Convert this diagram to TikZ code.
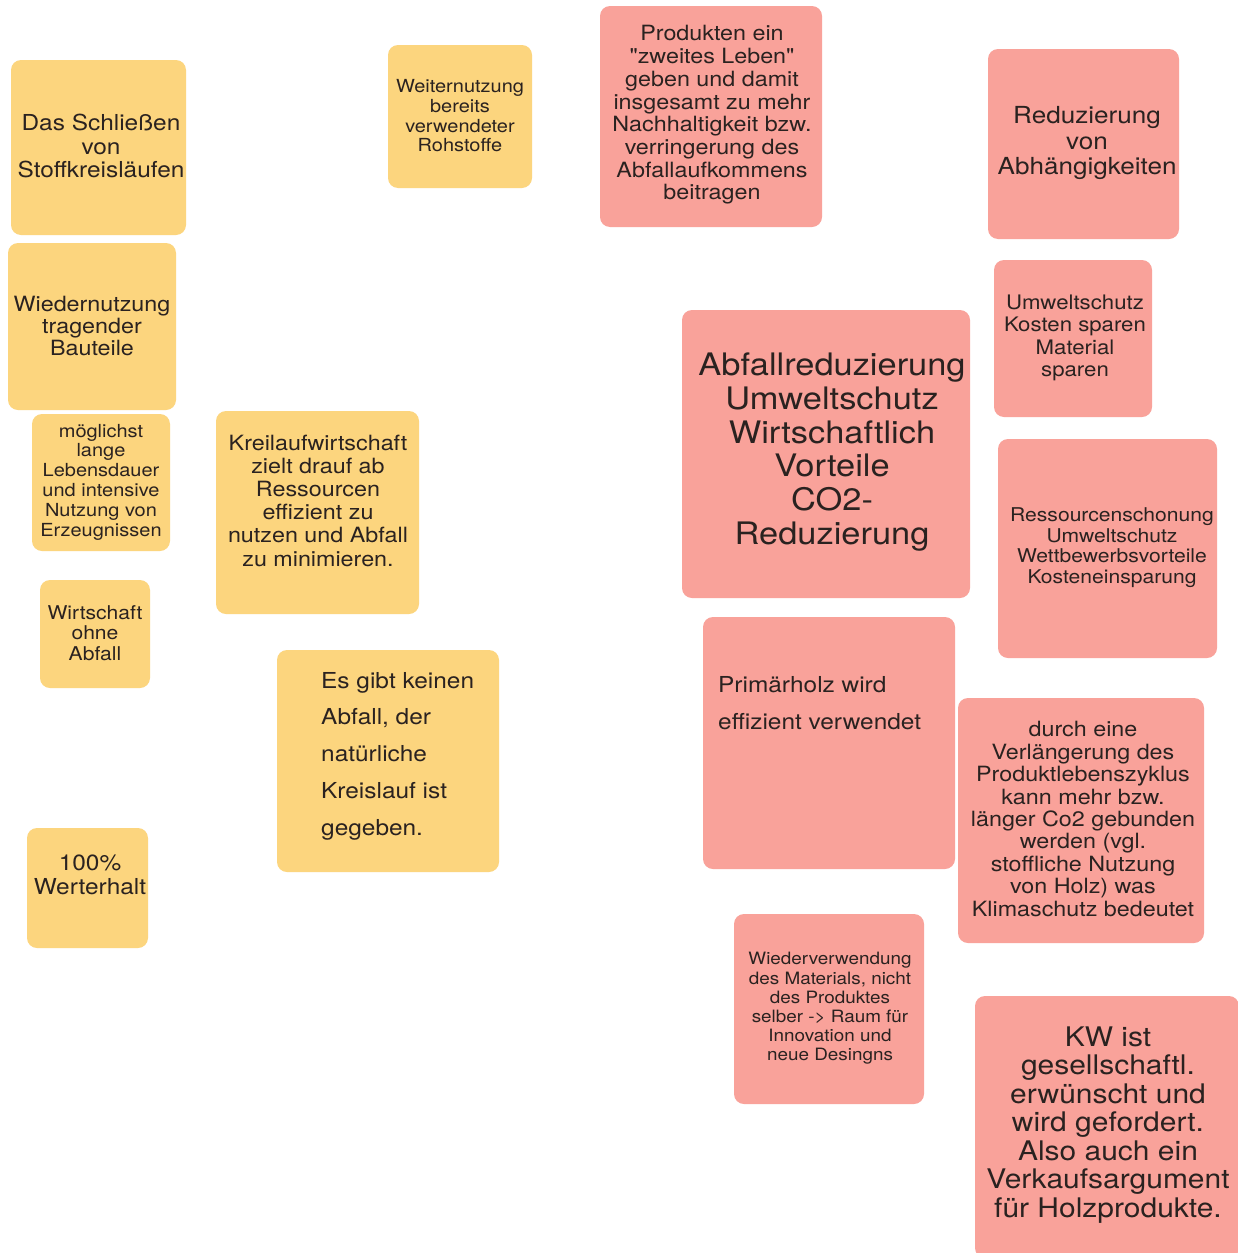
\documentclass[tikz,border=0pt]{standalone}
\usepackage{fontspec}
\setmainfont{TeX Gyre Heros}[FakeStretch=1.11, Ligatures=TeXOff]
\definecolor{sy}{HTML}{FCD57E}
\definecolor{sr}{HTML}{F9A29A}
\definecolor{ink}{HTML}{2A2220}
\tikzset{
  note/.style={rounded corners=10pt, inner sep=0pt, outer sep=0pt},
  ynote/.style={note, fill=sy},
  rnote/.style={note, fill=sr},
  txt/.style={inner sep=0pt, text=ink, align=center},
  ltxt/.style={inner sep=0pt, text=ink, align=left, anchor=west},
}
\newcommand{\fs}[2]{\fontsize{#1}{#2}\selectfont}
\begin{document}
\begin{tikzpicture}[x=1pt,y=-1pt]
\useasboundingbox[fill=white] (0,0) rectangle (1237,1253);
% yellow notes
\node[ynote, minimum width=175pt, minimum height=175pt] (b1) at (98.5,147.5) {};
\node[txt, font=\fs{22}{23.5}] (t1) at (101,146) {Das Schließen\\von\\Stoffkreisläufen};
\node[ynote, minimum width=168pt, minimum height=167pt] (b2) at (92,326.5) {};
\node[txt, font=\fs{21}{22}] (t2) at (92,325.5) {Wiedernutzung\\tragender\\Bauteile};
\node[ynote, minimum width=138pt, minimum height=137pt] (b3) at (101,482.5) {};
\node[txt, font=\fs{18}{19.8}] (t3) at (101,482) {möglichst\\lange\\Lebensdauer\\und intensive\\Nutzung von\\Erzeugnissen};
\node[ynote, minimum width=110pt, minimum height=108pt] (b4) at (95,634) {};
\node[txt, font=\fs{19}{20.5}] (t4) at (95,633) {Wirtschaft\\ohne\\Abfall};
\node[ynote, minimum width=121pt, minimum height=120pt] (b5) at (87.5,888) {};
\node[txt, font=\fs{22}{24}] (t5) at (90,874.5) {100\%\\Werterhalt};
\node[ynote, minimum width=144pt, minimum height=143pt] (b6) at (460,116.5) {};
\node[txt, font=\fs{18}{19.7}] (t6) at (460,116) {Weiternutzung\\bereits\\verwendeter\\Rohstoffe};
\node[ynote, minimum width=203pt, minimum height=203pt] (b7) at (317.5,512.5) {};
\node[txt, font=\fs{21}{23.2}] (t7) at (318,500.5) {Kreilaufwirtschaft\\zielt drauf ab\\Ressourcen\\effizient zu\\nutzen und Abfall\\zu minimieren.};
\node[ynote, minimum width=222pt, minimum height=222pt] (b8) at (388,761) {};
\node[ltxt, font=\fs{22}{36.75}] (t8) at (321,756) {Es gibt keinen\\Abfall, der\\natürliche\\Kreislauf ist\\gegeben.};
% red notes
\node[rnote, minimum width=222pt, minimum height=221pt] (b9) at (711,116.5) {};
\node[txt, font=\fs{21}{22.7}] (t9) at (712,115) {Produkten ein\\"zweites Leben"\\geben und damit\\insgesamt zu mehr\\Nachhaltigkeit bzw.\\verringerung des\\Abfallaufkommens\\beitragen};
\node[rnote, minimum width=191pt, minimum height=190pt] (b10) at (1083.5,144) {};
\node[txt, font=\fs{23.5}{25.5}] (t10) at (1087,143) {Reduzierung\\von\\Abhängigkeiten};
\node[rnote, minimum width=158pt, minimum height=157pt] (b11) at (1073,338.5) {};
\node[txt, font=\fs{20}{22.3}] (t11) at (1075,338) {Umweltschutz\\Kosten sparen\\Material\\sparen};
\node[rnote, minimum width=288pt, minimum height=288pt] (b12) at (826,454) {};
\node[txt, font=\fs{31}{33.8}] (t12) at (832,452) {Abfallreduzierung\\Umweltschutz\\Wirtschaftlich\\Vorteile\\CO2-\\Reduzierung};
\node[rnote, minimum width=219pt, minimum height=219pt] (b13) at (1107.5,548.5) {};
\node[txt, font=\fs{19}{20.7}] (t13) at (1112,547.5) {Ressourcenschonung\\Umweltschutz\\Wettbewerbsvorteile\\Kosteneinsparung};
\node[rnote, minimum width=252pt, minimum height=252pt] (b14) at (829,743) {};
\node[ltxt, font=\fs{22}{37}] (t14) at (718,703) {Primärholz wird\\effizient verwendet};
\node[rnote, minimum width=246pt, minimum height=245pt] (b15) at (1081,820.5) {};
\node[txt, font=\fs{21}{22.4}] (t15) at (1083,819) {durch eine\\Verlängerung des\\Produktlebenszyklus\\kann mehr bzw.\\länger Co2 gebunden\\werden (vgl.\\stoffliche Nutzung\\von Holz) was\\Klimaschutz bedeutet};
\node[rnote, minimum width=190pt, minimum height=190pt] (b16) at (829,1009) {};
\node[txt, font=\fs{17}{19.2}] (t16) at (830,1008.5) {Wiederverwendung\\des Materials, nicht\\des Produktes\\selber -> Raum für\\Innovation und\\neue Desingns};
\node[rnote, minimum width=264pt, minimum height=262pt] (b17) at (1107,1127) {};
\node[txt, font=\fs{27}{28.5}] (t17) at (1108,1125) {KW ist\\gesellschaftl.\\erwünscht und\\wird gefordert.\\Also auch ein\\Verkaufsargument\\für Holzprodukte.};
\end{tikzpicture}
\end{document}
